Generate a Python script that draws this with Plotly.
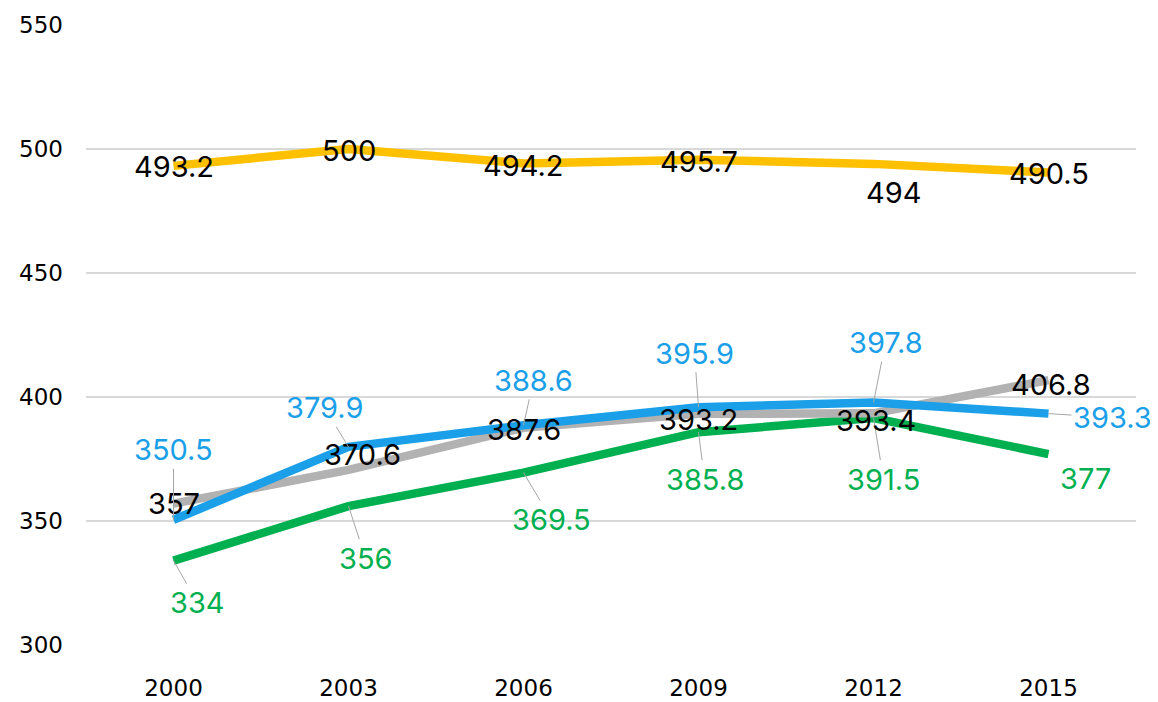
import plotly.graph_objects as go

years = ["2000", "2003", "2006", "2009", "2012", "2015"]
yellow_vals = [493.2, 500, 494.2, 495.7, 494, 490.5]
gray_vals = [357, 370.6, 387.6, 393.2, 393.4, 406.8]
blue_vals = [350.5, 379.9, 388.6, 395.9, 397.8, 393.3]
green_vals = [334, 356, 369.5, 385.8, 391.5, 377]

# label offsets in pixels from the point (dx, dy, leader line?)
yellow_lab = [(0, 1, 0), (0, 1, 0), (0, 2, 0), (0, 2, 0), (20, 29, 0), (0, 1, 0)]
gray_lab = [(0, 0, 0), (14, -15, 0), (0, 2, 0), (0, 6, 0), (2, 7, 0), (2, 4, 0)]
blue_lab = [(0, -70, 1), (-24, -39, 1), (10, -45, 1), (-4, -54, 1), (12, -60, 1), (64, 4, 1)]
green_lab = [(24, 42, 1), (17, 52, 1), (28, 47, 1), (6, 47, 1), (10, 61, 1), (37, 24, 0)]

YELLOW = "#FFC000"
GRAY = "#B2B2B2"
BLUE = "#1A9FE8"
GREEN = "#00B050"

series = [
    (yellow_vals, YELLOW, "black", yellow_lab),
    (green_vals, GREEN, GREEN, green_lab),
    (gray_vals, GRAY, "black", gray_lab),
    (blue_vals, BLUE, BLUE, blue_lab),
]

fig = go.Figure()
annotations = []
for vals, col, tcol, labs in series:
    fig.add_trace(go.Scatter(x=years, y=vals, mode="lines",
                             line=dict(color=col, width=8.5), showlegend=False))
    for i, (v, (dx, dy, lead)) in enumerate(zip(vals, labs)):
        txt = "%g" % v
        if lead:
            annotations.append(dict(x=i, y=v, text=txt, showarrow=True, ax=dx, ay=dy,
                                    arrowhead=0, arrowwidth=1, arrowcolor="#A6A6A6",
                                    font=dict(family="Inter", size=29, color=tcol)))
        else:
            annotations.append(dict(x=i, y=v, text=txt, showarrow=False,
                                    xshift=dx, yshift=-dy,
                                    font=dict(family="Inter", size=29, color=tcol)))

# page body has an 8px margin, so the figure is sized/offset to compensate
fig.update_layout(
    width=1150, height=694,
    margin=dict(l=78, r=22, t=17, b=57),
    paper_bgcolor="white", plot_bgcolor="white",
    annotations=annotations,
    xaxis=dict(type="category", range=[-0.5, 5.5], showgrid=False, zeroline=False,
               showline=False, ticks="", ticklabelstandoff=27, automargin=False,
               tickfont=dict(family="DejaVu Sans", size=23, color="black")),
    yaxis=dict(range=[300, 550], dtick=50, showgrid=True, gridcolor="#D9D9D9",
               gridwidth=1.5, zeroline=False, showline=False, ticks="",
               ticklabelstandoff=22, automargin=False,
               tickfont=dict(family="DejaVu Sans", size=23, color="black")),
)

fig.write_html("out.html")
